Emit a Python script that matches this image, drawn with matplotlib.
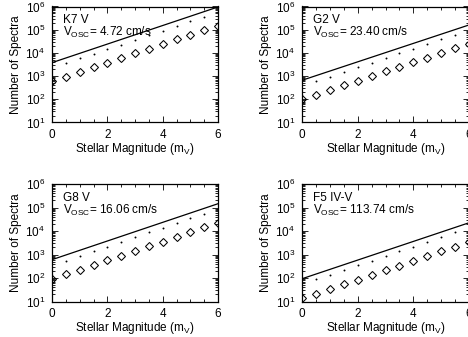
import matplotlib
matplotlib.use("Agg")
import matplotlib.pyplot as plt
from matplotlib.ticker import LogLocator, MultipleLocator, NullFormatter

plt.rcParams.update({"font.family": ["Liberation Sans", "DejaVu Sans"],
                     "mathtext.default": "regular", "font.size": 8.5})

# magnitudes
MAG_LINE = [0.0, 6.0]
MAG_DOTS = [0.5, 1.0, 1.5, 2.0, 2.5, 3.0, 3.5, 4.0, 4.5, 5.0, 5.5, 6.0]
MAG_DIAM = [0.0, 0.5, 1.0, 1.5, 2.0, 2.5, 3.0, 3.5, 4.0, 4.5, 5.0, 5.5, 6.0]

# K7 V
K7_LINE = [3800, 955000]
K7_DOTS = [3631, 5754, 9120, 14450, 22900, 36300, 57500, 91200,
           144500, 229000, 363000, 575000]
K7_DIAM = [603, 955, 1514, 2399, 3802, 6026, 9550, 15140, 23990,
           38020, 60260, 95500, 151400]

# G2 V
G2_LINE = [660, 160000]
G2_DOTS = [603, 955, 1514, 2399, 3802, 6026, 9550, 15140, 23990,
           38020, 60260, 95500]
G2_DIAM = [100, 158, 251, 398, 631, 1000, 1585, 2512, 3981, 6310,
           10000, 15850, 25120]

# G8 V
G8_LINE = [603, 145000]
G8_DOTS = [550, 871, 1380, 2188, 3467, 5495, 8710, 13800, 21880,
           34670, 54950, 87100]
G8_DIAM = [89, 141, 224, 355, 562, 891, 1413, 2239, 3548, 5623,
           8913, 14130, 22390]

# F5 IV-V
F5_LINE = [93, 22400]
F5_DOTS = [87, 138, 219, 347, 550, 871, 1380, 2188, 3467, 5495,
           8710, 13800]
F5_DIAM = [13.5, 21.4, 33.9, 53.7, 85.1, 135, 214, 339, 537, 851,
           1349, 2138, 3388]

TITLES = ["K7 V", "G2 V", "G8 V", "F5 IV-V"]
VOSC = ["4.72", "23.40", "16.06", "113.74"]

panels = [
    (K7_LINE, K7_DOTS, K7_DIAM),
    (G2_LINE, G2_DOTS, G2_DIAM),
    (G8_LINE, G8_DOTS, G8_DIAM),
    (F5_LINE, F5_DOTS, F5_DIAM),
]

W, H = 468, 337
fig = plt.figure(figsize=(W / 100, H / 100), dpi=100, facecolor="white")

# axes boxes in pixels: (left, top, right, bottom)
boxes = [(52, 6.5, 218, 122.5), (302, 6.5, 469, 122.5),
         (52, 184, 218, 301.5), (302, 184, 469, 301.5)]

for (l, t, r, b), title, vosc, (yl, yd, ym) in zip(boxes, TITLES, VOSC, panels):
    ax = fig.add_axes([l / W, 1 - b / H, (r - l) / W, (b - t) / H])
    ax.set_yscale("log")
    ax.set_xlim(0, 6)
    ax.set_ylim(10, 1e6)

    ax.plot(MAG_LINE, yl, color="black", lw=0.9)
    ax.plot(MAG_DOTS, yd, ls="none", marker="o", ms=1.4, mew=0, color="black")
    ax.plot(MAG_DIAM, ym, ls="none", marker="D", ms=4.2, mfc="none",
            mec="black", mew=0.75)

    ax.text(0.066, 0.885, title, transform=ax.transAxes, va="center", ha="left")
    ax.text(0.066, 0.775, "V$_{OSC}$= " + vosc + " cm/s", transform=ax.transAxes,
            va="center", ha="left")

    ax.set_xticks([0, 2, 4, 6])
    ax.xaxis.set_minor_locator(MultipleLocator(0.5))
    ax.yaxis.set_major_locator(LogLocator(base=10, numticks=10))
    ax.yaxis.set_minor_locator(LogLocator(base=10, subs=range(2, 10), numticks=20))
    ax.yaxis.set_minor_formatter(NullFormatter())
    ax.tick_params(which="both", direction="in", top=True, right=True,
                   width=0.6, labelsize=8.5)
    ax.tick_params(which="major", length=4, pad=5)
    ax.tick_params(which="minor", length=2)
    for s in ax.spines.values():
        s.set_linewidth(0.9)

    ax.set_xlabel("Stellar Magnitude (m$_V$)")
    ax.set_ylabel("Number of Spectra")
    ax.xaxis.set_label_coords(0.5, -0.16)
    ax.yaxis.set_label_coords(-0.18, 0.5)

fig.savefig("out.png", dpi=100, facecolor="white")
